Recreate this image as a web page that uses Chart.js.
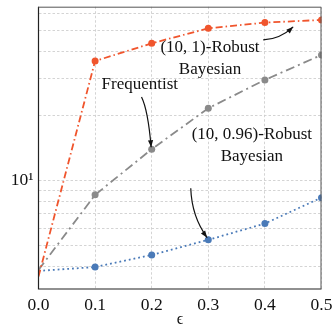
<!DOCTYPE html>
<html>
<head>
<meta charset="utf-8">
<script src="https://cdn.jsdelivr.net/npm/chart.js@4/dist/chart.umd.min.js"></script>
<style>
  html, body { margin: 0; padding: 0; background: #fff; }
  #wrap { width: 333px; height: 329px; }
</style>
</head>
<body>
<div id="wrap"><canvas id="grafico"></canvas></div>
<script>
// Dados
const epsilons = [0, 0.1, 0.2, 0.3, 0.4, 0.5];
const robustBayes1 = [3.58, 36.0, 43.5, 51.1, 54.3, 55.9];
const frequentist = [3.84, 8.58, 14.0, 21.7, 29.4, 38.4];
const robustBayes096 = [3.80, 3.96, 4.51, 5.30, 6.31, 8.33];

const xTicks = [0, 0.1, 0.2, 0.3, 0.4, 0.5];
const xTickLabels = ["0.0", "0.1", "0.2", "0.3", "0.4", "0.5"];
const yTicks = [4, 5, 6, 7, 8, 9, 10, 20, 30, 40, 50, 60];
const yTickLabels = { 10: "10\u00b9" };

// Rótulos e setas em coordenadas de dados
const rotulos = [
  { linhas: ["(10, 1)-Robust", "Bayesian"], x: 0.303, y: 41.4 },
  { linhas: ["Frequentist"], x: 0.179, y: 27.9 },
  { linhas: ["(10, 0.96)-Robust", "Bayesian"], x: 0.377, y: 16.3 }
];
const setas = [
  { de: [0.397, 45.1], ctrl: [0.4267, 45.5], para: [0.45, 51.9] },
  { de: [0.182, 24.5], ctrl: [0.1935, 21.3], para: [0.199, 14.3] },
  { de: [0.269, 9.2], ctrl: [0.2707, 6.80], para: [0.298, 5.42] }
];

const serif = "'Liberation Serif', 'DejaVu Serif', serif";

function pares(ys) {
  return epsilons.map((x, i) => ({ x: x, y: ys[i] }));
}

const semPrimeiro = ctx => (ctx.dataIndex === 0 ? 0 : 3.5);

const anotacoesPlugin = {
  id: "anotacoes",
  afterDatasetsDraw(chart) {
    const { ctx, scales, chartArea } = chart;
    const sx = scales.x, sy = scales.y;
    ctx.save();
    ctx.setLineDash([]);
    // moldura: esquerda/baixo mais escuras, topo/direita
    ctx.strokeStyle = "#222";
    ctx.lineWidth = 1.2;
    ctx.beginPath();
    ctx.moveTo(chartArea.left, chartArea.top);
    ctx.lineTo(chartArea.left, chartArea.bottom);
    ctx.lineTo(chartArea.right, chartArea.bottom);
    ctx.stroke();
    ctx.strokeStyle = "#555";
    ctx.lineWidth = 1;
    ctx.beginPath();
    ctx.moveTo(chartArea.left, chartArea.top + 0.5);
    ctx.lineTo(chartArea.right - 0.5, chartArea.top + 0.5);
    ctx.lineTo(chartArea.right - 0.5, chartArea.bottom);
    ctx.stroke();

    ctx.fillStyle = "#111";
    ctx.font = "17px " + serif;
    ctx.textAlign = "center";
    ctx.textBaseline = "middle";
    rotulos.forEach(r => {
      const px = sx.getPixelForValue(r.x);
      const py = sy.getPixelForValue(r.y);
      r.linhas.forEach((t, i) => ctx.fillText(t, px, py + i * 21.5));
    });

    ctx.strokeStyle = "#111";
    ctx.lineWidth = 1.2;
    setas.forEach(s => {
      const x0 = sx.getPixelForValue(s.de[0]), y0 = sy.getPixelForValue(s.de[1]);
      const cx = sx.getPixelForValue(s.ctrl[0]), cy = sy.getPixelForValue(s.ctrl[1]);
      const x1 = sx.getPixelForValue(s.para[0]), y1 = sy.getPixelForValue(s.para[1]);
      ctx.beginPath();
      ctx.moveTo(x0, y0);
      ctx.quadraticCurveTo(cx, cy, x1, y1);
      ctx.stroke();
      const ang = Math.atan2(y1 - cy, x1 - cx);
      const len = 7, w = 2.6;
      ctx.beginPath();
      ctx.moveTo(x1, y1);
      ctx.lineTo(x1 - len * Math.cos(ang) + w * Math.sin(ang), y1 - len * Math.sin(ang) - w * Math.cos(ang));
      ctx.lineTo(x1 - len * Math.cos(ang) - w * Math.sin(ang), y1 - len * Math.sin(ang) + w * Math.cos(ang));
      ctx.closePath();
      ctx.fill();
    });
    ctx.restore();
  }
};

new Chart(document.getElementById("grafico"), {
  type: "line",
  data: {
    datasets: [
      {
        data: pares(robustBayes1),
        borderColor: "#F0552D",
        backgroundColor: "#F0552D",
        borderWidth: 1.8,
        borderDash: [7, 3, 1.5, 3],
        pointRadius: semPrimeiro,
        pointBorderWidth: 0
      },
      {
        data: pares(frequentist),
        borderColor: "#8a8a8a",
        backgroundColor: "#8a8a8a",
        borderWidth: 1.8,
        borderDash: [9, 4, 2, 4],
        pointRadius: semPrimeiro,
        pointBorderWidth: 0
      },
      {
        data: pares(robustBayes096),
        borderColor: "#4a7ab8",
        backgroundColor: "#4a7ab8",
        borderWidth: 1.8,
        borderDash: [1.8, 3],
        pointRadius: semPrimeiro,
        pointBorderWidth: 0
      }
    ]
  },
  options: {
    responsive: true,
    maintainAspectRatio: false,
    animation: false,
    layout: { padding: { left: 0, right: 11.5, top: 6.7, bottom: 0 } },
    plugins: { legend: { display: false }, tooltip: { enabled: false } },
    scales: {
      x: {
        type: "linear",
        min: 0,
        max: 0.5,
        afterBuildTicks: s => { s.ticks = xTicks.map(v => ({ value: v })); },
        afterFit: s => {
          s.height = 40;
          s.paddingLeft = 0; s.paddingRight = 0;
        },
        grid: { color: "#cfcfcf", lineWidth: 0.9, drawTicks: false },
        border: { display: false, dash: [2.5, 2] },
        ticks: {
          padding: 6,
          color: "#111",
          font: { family: serif, size: 17.5 },
          callback: (v, i) => xTickLabels[i]
        },
        title: {
          display: true,
          text: "\u03f5",
          color: "#111",
          font: { family: serif, size: 16 },
          padding: { top: 2, bottom: 0 }
        }
      },
      y: {
        type: "logarithmic",
        min: 3.13,
        max: 64.4,
        afterBuildTicks: s => { s.ticks = yTicks.map(v => ({ value: v })); },
        afterFit: s => {
          s.width = 38.5;
          s.paddingTop = 0; s.paddingBottom = 0;
        },
        grid: { color: "#cfcfcf", lineWidth: 0.9, drawTicks: false },
        border: { display: false, dash: [2.5, 2] },
        ticks: {
          padding: 5,
          color: "#111",
          font: { family: serif, size: 17.5 },
          autoSkip: false,
          callback: v => yTickLabels[v] || ""
        }
      }
    }
  },
  plugins: [anotacoesPlugin]
});
</script>
</body>
</html>
